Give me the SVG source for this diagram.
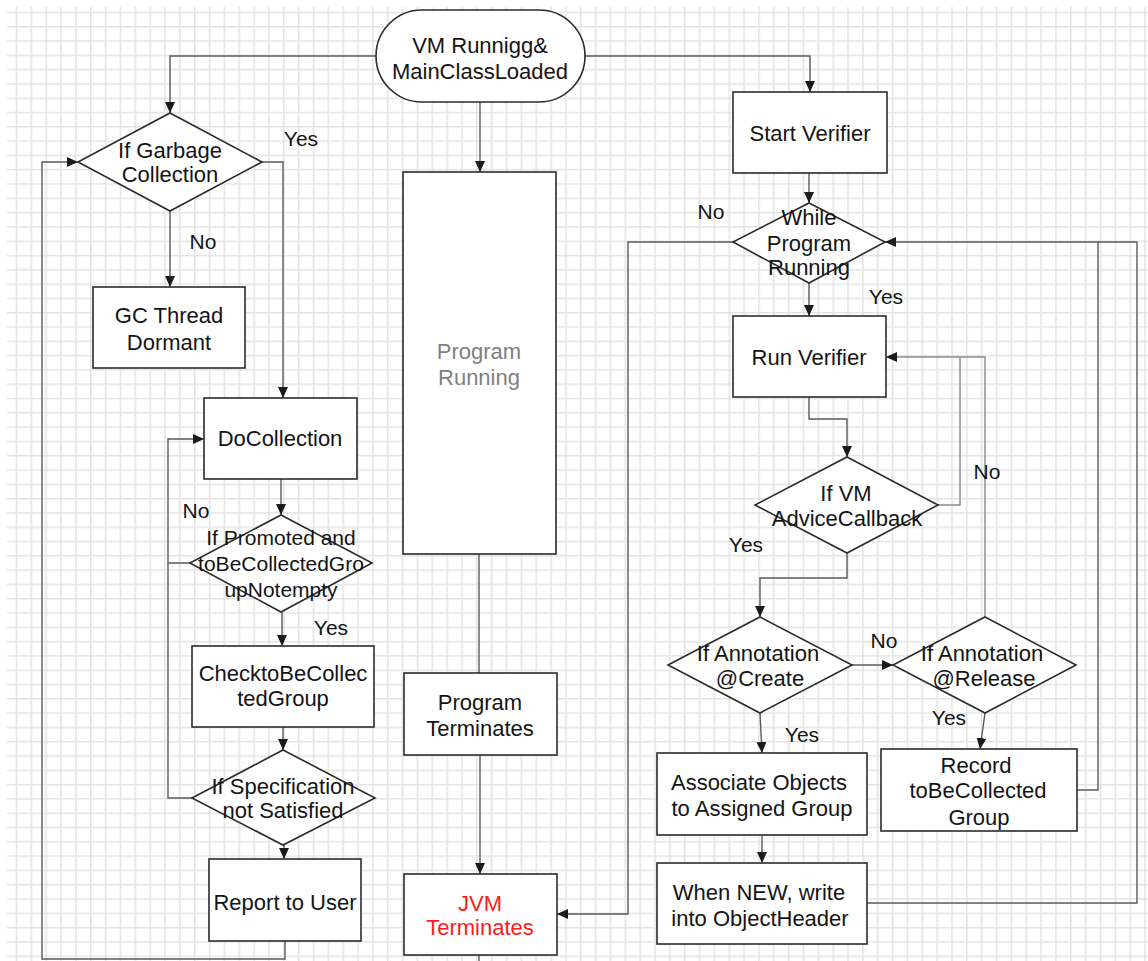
<svg xmlns="http://www.w3.org/2000/svg" width="1148" height="961" viewBox="0 0 1148 961">
<defs>
<pattern id="grid" patternUnits="userSpaceOnUse" x="15.7" y="11.7" width="14.85" height="14.3">
<rect width="14.85" height="14.3" fill="#ffffff"/>
<path d="M0.75,0 V14.3 M0,0.75 H14.85" stroke="#e3e3e3" stroke-width="1.5" fill="none"/>
</pattern>
<marker id="arr" markerUnits="userSpaceOnUse" markerWidth="12" markerHeight="10" refX="11" refY="5" orient="auto">
<path d="M0,0 L11,5 L0,10 Z" fill="#1a1a1a"/>
</marker>
</defs>
<style>
.box{fill:#ffffff;stroke:#2b2b2b;stroke-width:1.6}
.t{font-family:"Liberation Sans",Arial,sans-serif;font-size:22px;fill:#141414;text-anchor:middle}
.s{font-size:21px}
.lbl{font-family:"Liberation Sans",Arial,sans-serif;font-size:21px;fill:#141414;text-anchor:middle}
.c{fill:none;stroke:#5a5a5a;stroke-width:1.4}
.ca{fill:none;stroke:#5a5a5a;stroke-width:1.4;marker-end:url(#arr)}
.lt{stroke:#8a8a8a}
</style>
<rect width="1148" height="961" fill="#ffffff"/>
<rect x="7" y="7" width="1141" height="954" fill="url(#grid)"/>

<g id="connectors">
<path class="ca" d="M376,56 H170 V113"/>
<path class="ca" d="M585,56 H810 V92"/>
<path class="ca" d="M480,102 V172"/>
<path class="ca" d="M170,211 V287"/>
<path class="ca" d="M262,162 H283 V398"/>
<path class="ca" d="M285,941 V959 H42 V162 H78"/>
<path class="ca" d="M281,479 V515"/>
<path class="ca" d="M190,563 H168 V439 H204"/>
<path class="c" d="M192,798 H168 V563"/>
<path class="ca" d="M282,612 V646"/>
<path class="ca" d="M283,727 V750"/>
<path class="ca" d="M284,845 V859"/>
<path class="c" d="M479,554 V673"/>
<path class="ca" d="M480,755 V874"/>
<path class="c" d="M479,955 V961"/>
<path class="ca" d="M733,242 H628 V914 H557"/>
<path class="ca" d="M809,173 V203"/>
<path class="ca" d="M809,283 V316"/>
<path class="ca" d="M809,397 V419 H847 V457"/>
<path class="c lt" d="M938,505 H960 V357"/>
<path class="ca lt" d="M985,617 V357 H886"/>
<path class="ca" d="M847,553 V578 H760 V617"/>
<path class="ca" d="M852,665 H893"/>
<path class="ca" d="M985,713 L980,749"/>
<path class="ca" d="M760,713 L762,753"/>
<path class="ca" d="M762,835 V863"/>
<path class="ca" d="M1077,790 H1098 V242 H885"/>
<path class="c" d="M867,903 H1137 V242 H1098"/>
</g>

<g id="labels">
<text class="lbl" x="301" y="146">Yes</text>
<text class="lbl" x="203" y="249">No</text>
<text class="lbl" x="196" y="518">No</text>
<text class="lbl" x="331" y="635">Yes</text>
<text class="lbl" x="711" y="219">No</text>
<text class="lbl" x="886" y="304">Yes</text>
<text class="lbl" x="987" y="479">No</text>
<text class="lbl" x="746" y="552">Yes</text>
<text class="lbl" x="884" y="648">No</text>
<text class="lbl" x="949" y="725">Yes</text>
<text class="lbl" x="802" y="742">Yes</text>
</g>

<g id="vm-running">
<rect class="box" x="376" y="10" width="209" height="92" rx="46" ry="46"/>
<text class="t" x="480" y="53">VM Runnigg&amp;</text>
<text class="t" x="480" y="79">MainClassLoaded</text>
</g>

<g id="if-gc">
<polygon class="box" points="170,113 262,162 170,211 78,162"/>
<text class="t" x="170" y="158">If Garbage</text>
<text class="t" x="170" y="182">Collection</text>
</g>

<g id="gc-dormant">
<rect class="box" x="93" y="287" width="152" height="81"/>
<text class="t" x="169" y="323">GC Thread</text>
<text class="t" x="169" y="350">Dormant</text>
</g>

<g id="do-collection">
<rect class="box" x="204" y="398" width="153" height="81"/>
<text class="t" x="280" y="446">DoCollection</text>
</g>

<g id="if-promoted">
<polygon class="box" points="281,515 372,563 281,612 190,563"/>
<text class="t s" x="281" y="545">If Promoted and</text>
<text class="t s" x="281" y="571">toBeCollectedGro</text>
<text class="t s" x="281" y="597">upNotempty</text>
</g>

<g id="check-group">
<rect class="box" x="192" y="646" width="182" height="81"/>
<text class="t" x="283" y="681">ChecktoBeCollec</text>
<text class="t" x="283" y="706">tedGroup</text>
</g>

<g id="if-spec">
<polygon class="box" points="283,750 375,798 283,845 192,798"/>
<text class="t" x="283" y="794">If Specification</text>
<text class="t" x="283" y="818">not Satisfied</text>
</g>

<g id="report-user">
<rect class="box" x="209" y="859" width="152" height="82"/>
<text class="t" x="285" y="910">Report to User</text>
</g>

<g id="program-running">
<rect class="box" x="403" y="172" width="153" height="382"/>
<text class="t" x="479" y="359" style="fill:#808080">Program</text>
<text class="t" x="479" y="385" style="fill:#808080">Running</text>
</g>

<g id="program-terminates">
<rect class="box" x="404" y="673" width="153" height="82"/>
<text class="t" x="480" y="710">Program</text>
<text class="t" x="480" y="736">Terminates</text>
</g>

<g id="jvm-terminates">
<rect class="box" x="404" y="874" width="153" height="81"/>
<text class="t" x="480" y="911" style="fill:#ff1a1a">JVM</text>
<text class="t" x="480" y="935" style="fill:#ff1a1a">Terminates</text>
</g>

<g id="start-verifier">
<rect class="box" x="733" y="92" width="154" height="81"/>
<text class="t" x="810" y="141">Start Verifier</text>
</g>

<g id="while-running">
<polygon class="box" points="809,203 885,242 809,283 733,242"/>
<text class="t" x="809" y="225">While</text>
<text class="t" x="809" y="251">Program</text>
<text class="t" x="809" y="275">Running</text>
</g>

<g id="run-verifier">
<rect class="box" x="733" y="316" width="153" height="81"/>
<text class="t" x="809" y="365">Run Verifier</text>
</g>

<g id="if-vm-callback">
<polygon class="box" points="847,457 938,505 847,553 755,505"/>
<text class="t" x="846" y="501">If VM</text>
<text class="t" x="847" y="526">AdviceCallback</text>
</g>

<g id="if-create">
<polygon class="box" points="760,617 852,665 760,713 668,665"/>
<text class="t" x="758" y="661">If Annotation</text>
<text class="t" x="760" y="686">@Create</text>
</g>

<g id="if-release">
<polygon class="box" points="985,617 1076,665 985,713 893,665"/>
<text class="t" x="982" y="661">If Annotation</text>
<text class="t" x="984" y="686">@Release</text>
</g>

<g id="record-group">
<rect class="box" x="881" y="749" width="196" height="82"/>
<text class="t" x="976" y="773">Record</text>
<text class="t" x="978" y="798">toBeCollected</text>
<text class="t" x="979" y="825">Group</text>
</g>

<g id="associate">
<rect class="box" x="657" y="753" width="210" height="82"/>
<text class="t" x="759" y="790">Associate Objects</text>
<text class="t" x="762" y="816">to Assigned Group</text>
</g>

<g id="when-new">
<rect class="box" x="657" y="863" width="210" height="81"/>
<text class="t" x="759" y="900">When NEW, write</text>
<text class="t" x="760" y="926">into ObjectHeader</text>
</g>
</svg>
